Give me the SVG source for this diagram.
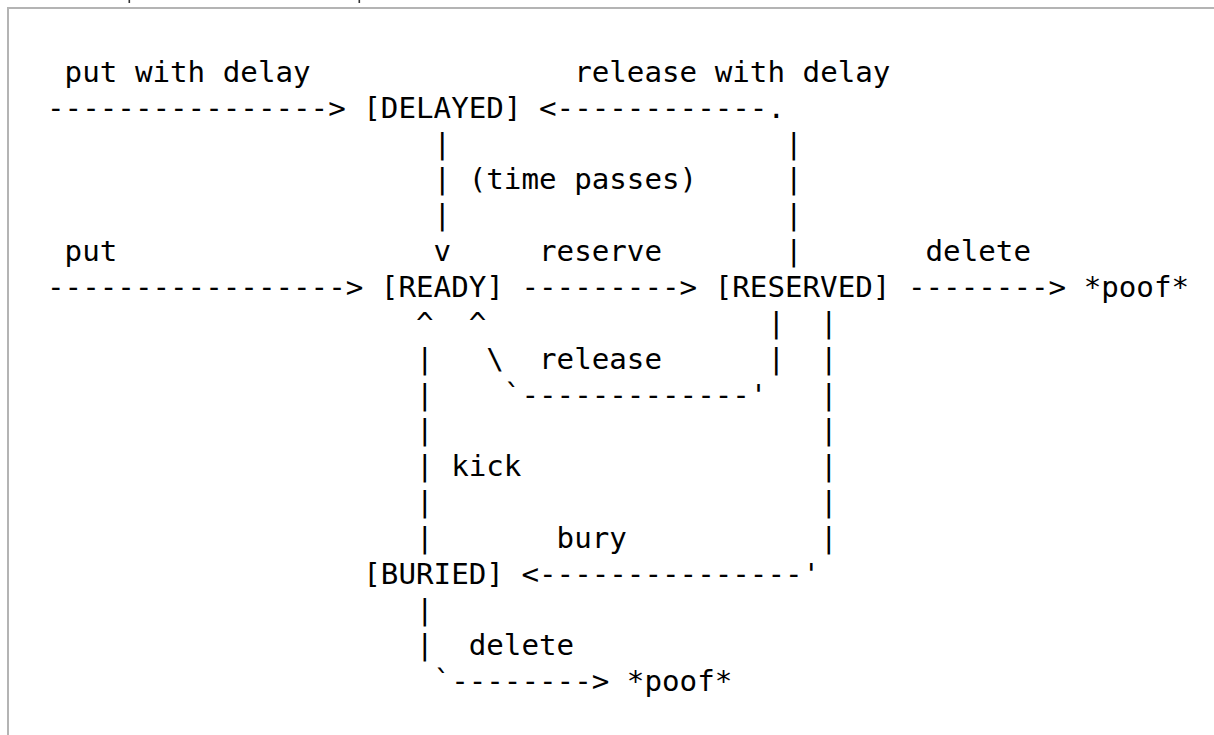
<svg xmlns="http://www.w3.org/2000/svg" width="1214" height="735" viewBox="0 0 1214 735">
<style>
text{font-family:"DejaVu Sans Mono","Liberation Mono",monospace;font-size:29.2px;fill:#000;white-space:pre}
.frame{fill:none;stroke:#b4b4b4;stroke-width:2}
</style>
<rect width="1214" height="735" fill="#fff"/>
<path class="frame" d="M8 735 V8 H1214"/>
<rect x="128.5" y="0" width="1.6" height="3" fill="#333"/>
<rect x="358.5" y="0" width="1.6" height="3" fill="#333"/>
<g transform="translate(0,1.5)">
<g id="connectors">
<text x="47.04" y="116.2" xml:space="preserve">----------------&gt;</text>
<text x="539.0" y="116.2" xml:space="preserve">&lt;------------.</text>
<text x="433.58" y="152.0">|</text>
<text x="784.98" y="152.0">|</text>
<text x="433.58" y="187.9">|</text>
<text x="784.98" y="187.9">|</text>
<text x="433.58" y="223.7">|</text>
<text x="784.98" y="223.7">|</text>
<text x="433.58" y="259.6">v</text>
<text x="784.98" y="259.6">|</text>
<text x="47.04" y="295.4">-----------------&gt;</text>
<text x="521.43" y="295.4">---------&gt;</text>
<text x="907.97" y="295.4">--------&gt;</text>
<text x="416.01" y="331.3">^</text>
<text x="468.72" y="331.3">^</text>
<text x="767.41" y="331.3">|</text>
<text x="820.12" y="331.3">|</text>
<text x="416.01" y="367.1">|</text>
<text x="486.29" y="367.1">\</text>
<text x="767.41" y="367.1">|</text>
<text x="820.12" y="367.1">|</text>
<text x="416.01" y="403.0">|</text>
<text x="503.86" y="403.0">`-------------'</text>
<text x="820.12" y="403.0">|</text>
<text x="416.01" y="438.8">|</text>
<text x="820.12" y="438.8">|</text>
<text x="416.01" y="474.7">|</text>
<text x="820.12" y="474.7">|</text>
<text x="416.01" y="510.5">|</text>
<text x="820.12" y="510.5">|</text>
<text x="416.01" y="546.4">|</text>
<text x="820.12" y="546.4">|</text>
<text x="521.43" y="582.2">&lt;---------------'</text>
<text x="416.01" y="618.1">|</text>
<text x="416.01" y="653.9">|</text>
<text x="433.58" y="689.8">`--------&gt;</text>
</g>
<g id="labels">
<text x="64.61" y="80.3">put with delay</text>
<text x="574.14" y="80.3">release with delay</text>
<text x="468.72" y="187.9">(time passes)</text>
<text x="64.61" y="259.6">put</text>
<text x="539.0" y="259.6">reserve</text>
<text x="925.54" y="259.6">delete</text>
<text x="539.0" y="367.1">release</text>
<text x="451.15" y="474.7">kick</text>
<text x="556.57" y="546.4">bury</text>
<text x="468.72" y="653.9">delete</text>
</g>
<g id="node-delayed"><text x="363.3" y="116.2">[DELAYED]</text></g>
<g id="node-ready"><text x="380.87" y="295.4">[READY]</text></g>
<g id="node-reserved"><text x="714.7" y="295.4">[RESERVED]</text></g>
<g id="node-buried"><text x="363.3" y="582.2">[BURIED]</text></g>
<g id="node-poof-1"><text x="1083.67" y="295.4">*poof*</text></g>
<g id="node-poof-2"><text x="626.85" y="689.8">*poof*</text></g>
</g>
</svg>
